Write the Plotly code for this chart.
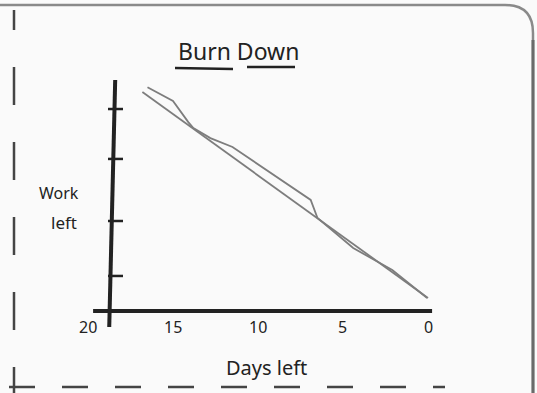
import plotly.graph_objects as go

# ---- data -------------------------------------------------------------
ideal_days = [16.8, 0.0]
ideal_work = [95.6, 5.7]

actual_days = [16.5, 15.0, 14.1, 13.8, 12.8, 11.5, 6.9, 6.5, 4.4, 2.1, 0.05]
actual_work = [97.7, 91.7, 82.5, 79.9, 75.5, 71.6, 48.5, 40.6, 27.5, 17.9, 5.7]

day_ticks = [20, 15, 10, 5, 0]
day_tick_labels = ["20", "15", "10", "5", "0"]
work_ticks = [15.3, 39.3, 66.4, 88.2]

# ---- canvas geometry --------------------------------------------------
W, H = 537, 393
X_RANGE = [25.176, -6.412]      # days left, reversed
Y_RANGE = [-35.81, 135.81]      # work left

INK = "#222222"
LINE = "#7d7d7d"
FONT = "Noto Sans"


def px(x):
    return x / W


def py(y):
    return 1 - y / H


fig = go.Figure()

fig.add_trace(go.Scatter(
    x=ideal_days, y=ideal_work, mode="lines",
    line=dict(color=LINE, width=1.8), hoverinfo="skip", showlegend=False))
fig.add_trace(go.Scatter(
    x=actual_days, y=actual_work, mode="lines",
    line=dict(color=LINE, width=1.8), hoverinfo="skip", showlegend=False))

shapes = []

# card outline: top edge with rounded corner and right edge
shapes.append(dict(
    type="path", xref="paper", yref="paper",
    path=f"M {px(-5)},{py(5)} L {px(505)},{py(5)} "
         f"Q {px(533)},{py(5)} {px(533)},{py(33)} L {px(533)},{py(400)}",
    line=dict(color="#8a8a8a", width=2.5)))
shapes.append(dict(
    type="line", xref="paper", yref="paper",
    x0=px(533), x1=px(533), y0=py(40), y1=py(400),
    line=dict(color="#6a6a6a", width=3)))

# dashed cut line on the left and bottom
shapes.append(dict(
    type="line", xref="paper", yref="paper",
    x0=px(14), x1=px(14), y0=py(405), y1=py(10),
    line=dict(color="#444444", width=2.5, dash="38px,37px")))
shapes.append(dict(
    type="line", xref="paper", yref="paper",
    x0=px(9), x1=px(445), y0=py(387), y1=py(387),
    line=dict(color="#444444", width=2.5, dash="26px,27px")))

# axes drawn with a heavy pen
shapes.append(dict(
    type="line", xref="x", yref="y",
    x0=19.7, x1=-0.24, y0=0, y1=0,
    line=dict(color=INK, width=4)))
shapes.append(dict(
    type="line", xref="x", yref="y",
    x0=18.4, x1=18.75, y0=100.9, y1=-7.0,
    line=dict(color=INK, width=4)))

# y-axis tick marks
for w in work_ticks:
    shapes.append(dict(
        type="line", xref="paper", yref="y",
        x0=px(108), x1=px(123), y0=w, y1=w,
        line=dict(color=INK, width=2.5)))

# title underlines
shapes.append(dict(
    type="line", xref="paper", yref="paper",
    x0=px(175), x1=px(233), y0=py(68), y1=py(69),
    line=dict(color=INK, width=2.5)))
shapes.append(dict(
    type="line", xref="paper", yref="paper",
    x0=px(247), x1=px(295), y0=py(67), y1=py(67),
    line=dict(color=INK, width=2.5)))

annotations = []
for d, lab in zip(day_ticks, day_tick_labels):
    annotations.append(dict(
        x=d, y=-7.2, xref="x", yref="y", text=lab, showarrow=False,
        xanchor="center", yanchor="middle",
        font=dict(family=FONT, size=16, color=INK)))

annotations.append(dict(
    x=px(238), y=py(51), xref="paper", yref="paper", text="Burn Down",
    showarrow=False, xanchor="center", yanchor="middle",
    font=dict(family=FONT, size=23, color=INK)))
annotations.append(dict(
    x=px(59), y=py(193), xref="paper", yref="paper", text="Work",
    showarrow=False, xanchor="center", yanchor="middle",
    font=dict(family=FONT, size=16, color=INK)))
annotations.append(dict(
    x=px(64), y=py(222), xref="paper", yref="paper", text="left",
    showarrow=False, xanchor="center", yanchor="middle",
    font=dict(family=FONT, size=17, color=INK)))
annotations.append(dict(
    x=px(266), y=py(367), xref="paper", yref="paper", text="Days left",
    showarrow=False, xanchor="center", yanchor="middle",
    font=dict(family=FONT, size=20, color=INK)))

fig.update_layout(
    width=W, height=H,
    margin=dict(l=0, r=0, t=0, b=0),
    paper_bgcolor="#fafafa", plot_bgcolor="#fafafa",
    xaxis=dict(range=X_RANGE, visible=False, fixedrange=True),
    yaxis=dict(range=Y_RANGE, visible=False, fixedrange=True),
    shapes=shapes, annotations=annotations,
    showlegend=False,
)

fig.write_html("out.html")
